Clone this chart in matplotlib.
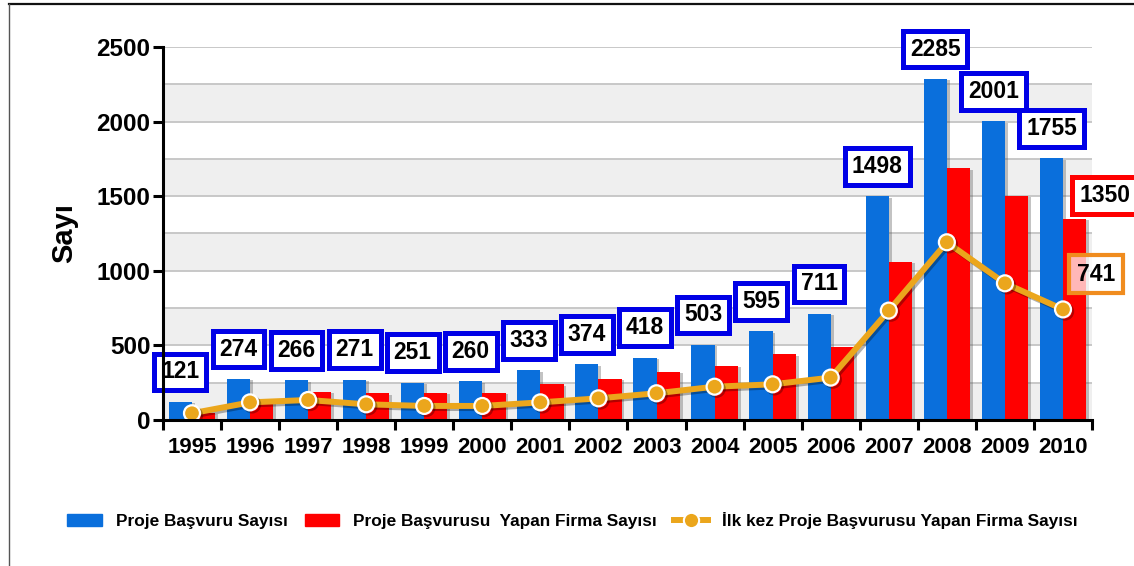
# bar + line chart: proje basvuru sayilari 1995-2010
import numpy as np
import matplotlib.pyplot as plt
import matplotlib.patheffects as pe
from matplotlib.patches import Patch
from matplotlib.lines import Line2D

plt.rcParams['font.family'] = ['Liberation Sans', 'DejaVu Sans']

# data
years = ['1995', '1996', '1997', '1998', '1999', '2000', '2001', '2002',
         '2003', '2004', '2005', '2006', '2007', '2008', '2009', '2010']
basvuru = [121, 274, 266, 271, 251, 260, 333, 374, 418, 503, 595, 711, 1498, 2285, 2001, 1755]
firma = [50, 125, 190, 180, 183, 183, 239, 275, 322, 364, 440, 491, 1059, 1687, 1501, 1350]
ilk_kez = [45, 118, 134, 105, 94, 94, 118, 145, 179, 223, 239, 284, 733, 1191, 916, 741]

legend_labels = ['Proje Başvuru Sayısı',
                 'Proje Başvurusu  Yapan Firma Sayısı',
                 'İlk kez Proje Başvurusu Yapan Firma Sayısı']

blue = '#0a6fdc'
red = '#ff0000'
orange = '#eba61c'

fig = plt.figure(figsize=(11.34, 5.66), dpi=100)
ax = fig.add_axes([0.1437, 0.258, 0.8193, 0.659])

x = np.arange(len(years))
w = 0.4

# striped background + grid every 250
for lo in range(0, 2500, 500):
    ax.axhspan(lo, lo + 250, color='#efefef', zorder=0, lw=0)
for g in range(250, 2501, 250):
    ax.axhline(g, color='#c4c4c4', lw=1.3, zorder=0.5)

shadow = [pe.SimplePatchShadow(offset=(2, -1), shadow_rgbFace='#555555', alpha=0.35), pe.Normal()]
ax.bar(x - w / 2, basvuru, w, color=blue, zorder=1, path_effects=shadow)
ax.bar(x + w / 2, firma, w, color=red, zorder=1, path_effects=shadow)

ax.plot(x, ilk_kez, color=orange, lw=4.3, marker='o', markersize=11.5,
        markerfacecolor=orange, markeredgecolor='white', markeredgewidth=1.6, zorder=4,
        path_effects=[pe.SimpleLineShadow(offset=(1.5, -1.5), alpha=0.3), pe.Normal()])

# value boxes above blue bars
for i, v in enumerate(basvuru):
    ax.annotate(str(v), xy=(x[i] - w / 2, v), xytext=(0, 21.6), textcoords='offset points',
                ha='center', va='center', fontsize=16.5, fontweight='bold', annotation_clip=False,
                bbox=dict(boxstyle='square,pad=0.3', fc='white', ec='#0000e6', lw=3.6), zorder=5)

# last red bar and last line point get their own boxes
ax.annotate(str(firma[-1]), xy=(x[-1] + w / 2, firma[-1]), xytext=(21.6, 16.6),
            textcoords='offset points', ha='center', va='center', fontsize=16.5,
            fontweight='bold', annotation_clip=False, zorder=5,
            bbox=dict(boxstyle='square,pad=0.3', fc='white', ec=red, lw=3.6))
ax.annotate(str(ilk_kez[-1]), xy=(x[-1], ilk_kez[-1]), xytext=(23.8, 25.2),
            textcoords='offset points', ha='center', va='center', fontsize=16.5,
            fontweight='bold', annotation_clip=False, zorder=5,
            bbox=dict(boxstyle='square,pad=0.33', fc=(1, 1, 1, 0.72), ec='#f08c1e', lw=3))

ax.set_xlim(-0.5, len(years) - 0.5)
ax.set_ylim(0, 2500)
ax.set_yticks(range(0, 2501, 500))
ax.set_xticks(x)
ax.set_xticklabels(years)
ax.set_xticks(np.arange(len(years) + 1) - 0.5, minor=True)

ax.tick_params(axis='y', length=7, width=2.2, pad=2, labelsize=17.5)
ax.tick_params(axis='x', which='major', length=0, pad=12, labelsize=16)
ax.tick_params(axis='x', which='minor', length=7, width=2.2)
for lab in ax.get_xticklabels() + ax.get_yticklabels():
    lab.set_fontweight('bold')

for s in ['top', 'right']:
    ax.spines[s].set_visible(False)
for s in ['left', 'bottom']:
    ax.spines[s].set_linewidth(2.2)
    ax.spines[s].set_zorder(6)

ax.set_ylabel('Sayı', fontsize=21, fontweight='bold')
ax.yaxis.set_label_coords(-0.091, 0.5)

# legend at the bottom
handles = [Patch(color=blue), Patch(color=red),
           Line2D([0], [0], color=orange, lw=4.3, marker='o', markersize=11,
                  markerfacecolor=orange, markeredgecolor='white', markeredgewidth=1.5)]
leg = fig.legend(handles, legend_labels, loc='center', bbox_to_anchor=(0.505, 0.081),
                 ncol=3, frameon=False, prop={'size': 12.4, 'weight': 'bold'},
                 handlelength=2.0, handletextpad=0.8, columnspacing=1.0)

# frame lines of the original screenshot
fig.add_artist(Line2D([9 / 1134, 1], [1 - 4 / 566, 1 - 4 / 566], color='#111111', lw=1.6))
fig.add_artist(Line2D([9 / 1134, 9 / 1134], [0, 1 - 4 / 566], color='#555555', lw=1))

fig.savefig('out.png', dpi=100)
